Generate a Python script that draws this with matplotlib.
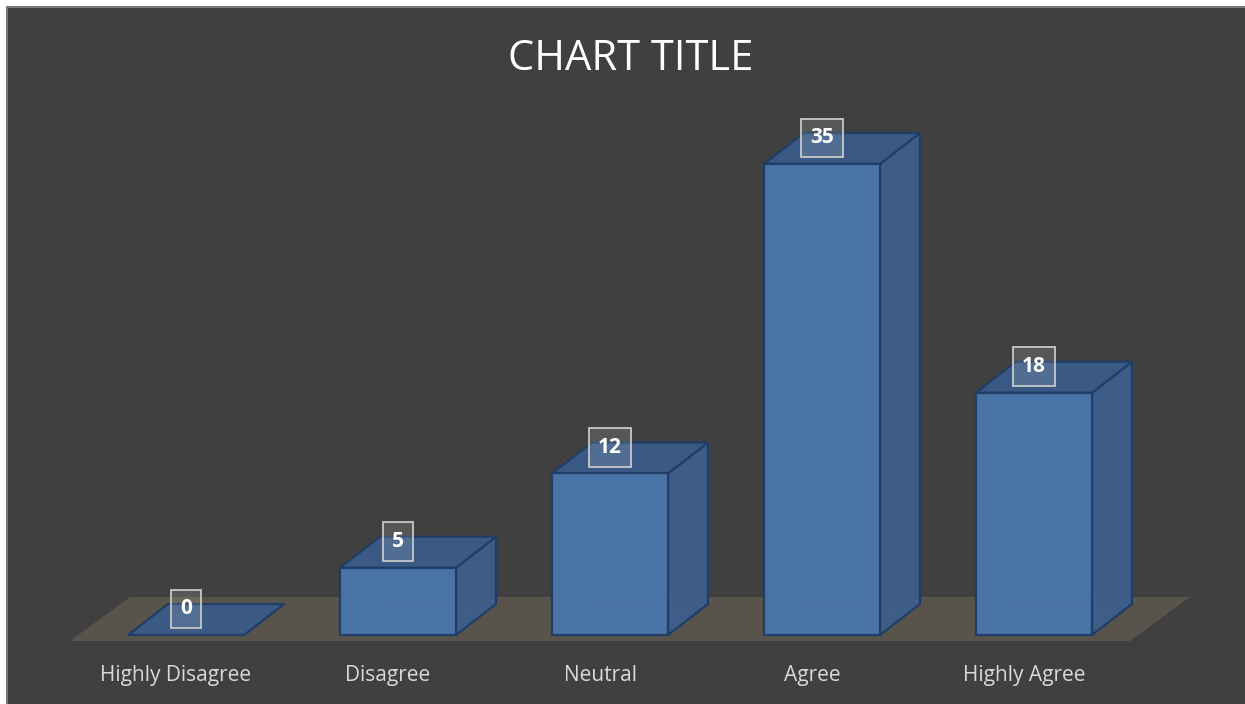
import matplotlib
matplotlib.use("Agg")
import matplotlib.pyplot as plt
from matplotlib.patches import Polygon, Rectangle

# data
categories = ["Highly Disagree", "Disagree", "Neutral", "Agree", "Highly Agree"]
values = [0, 5, 12, 35, 18]
title = "CHART TITLE"

# colours
bg = "#404040"
floor_col = "#58544b"
front_col = "#4b76ac"
top_col = "#3a5b88"
side_col = "#3d5e8c"
edge_col = "#1f3d66"
text_col = "#d9d9d9"

W, H, DPI = 1245, 704, 100
fig = plt.figure(figsize=(W / DPI, H / DPI), dpi=DPI, facecolor="white")

# dark chart area with thin grey border (white strip top/left)
fig.patches.append(Rectangle((7 / W, -0.01), 1.02 - 7 / W, 1.01 - 7 / H, transform=fig.transFigure,
                             facecolor=bg, edgecolor="#7a7a7a", linewidth=1.5, zorder=-5))

ax = fig.add_axes([0, 0, 1, 1])
ax.set_facecolor("none")
ax.axis("off")
ax.set_zorder(5)
# pixel mapping: category spacing 212 px, first centre 186 px; 13.46 px per unit, baseline 69 px from bottom
px_x, px_y = 212.0, 13.46
ax.set_xlim(-186 / px_x, (W - 186) / px_x)
ax.set_ylim(-69 / px_y, (H - 69) / px_y)

# depth offsets (style), in data units
bw = 116 / px_x
ddx, ddy = 40 / px_x, 31 / px_y
fdx, fdy = 60 / px_x, 44 / px_y

# floor
n = len(categories)
fy0 = -6 / px_y
fl, fr = -0.547, n - 1 + 0.453
ax.add_patch(Polygon([(fl, fy0), (fr, fy0), (fr + fdx, fy0 + fdy), (fl + fdx, fy0 + fdy)],
                     closed=True, facecolor=floor_col, edgecolor="none", zorder=1))

for i, v in enumerate(values):
    x0, x1 = i - bw / 2, i + bw / 2
    # hidden back edges seen through the translucent box
    ax.plot([x0 + ddx, x0 + ddx], [ddy, v + ddy], color=edge_col, lw=1, alpha=0.5, zorder=2)
    ax.plot([x0 + ddx, x1 + ddx], [ddy, ddy], color=edge_col, lw=1, alpha=0.5, zorder=2)
    ax.plot([x0, x0 + ddx], [0, ddy], color=edge_col, lw=1, alpha=0.5, zorder=2)
    side = Polygon([(x1, 0), (x1 + ddx, ddy), (x1 + ddx, v + ddy), (x1, v)],
                   facecolor=side_col, edgecolor=edge_col, lw=1.6, alpha=0.95, zorder=3)
    top = Polygon([(x0, v), (x1, v), (x1 + ddx, v + ddy), (x0 + ddx, v + ddy)],
                  facecolor=top_col, edgecolor=edge_col, lw=1.6, alpha=0.95, zorder=3)
    ax.add_patch(side)
    ax.add_patch(top)
    if v > 0:
        ax.add_patch(Rectangle((x0, 0), bw, v, facecolor=front_col, edgecolor=edge_col,
                               lw=1.6, alpha=0.95, zorder=4))
    ax.text(i, v + 26 / px_y, str(v), ha="center", va="center", color="white",
            fontsize=15, fontweight="bold", family="Open Sans", zorder=6,
            bbox=dict(boxstyle="square,pad=0.42", facecolor=(1, 1, 1, 0.12),
                      edgecolor="#c8c8c8", lw=1.3))
    ax.text(i - 10 / px_x, -40.5 / px_y, categories[i], ha="center", va="center",
            color=text_col, fontsize=15, family="Open Sans", zorder=6)

fig.text(631 / W, 1 - 59 / H, title, ha="center", va="center", color="white",
         fontsize=30, family="Open Sans")

fig.savefig("out.png", dpi=DPI, facecolor=fig.get_facecolor())
